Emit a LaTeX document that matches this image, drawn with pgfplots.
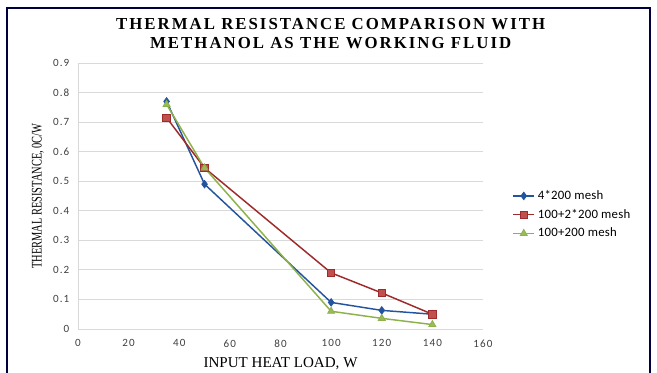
\documentclass[border=0pt]{standalone}
\usepackage{pgfplots}
\pgfplotsset{compat=1.18}
\usepackage{fontspec}
\setmainfont{Liberation Serif}
\newfontfamily\carl[LetterSpace=2]{Carlito}
\newfontfamily\titlefont[LetterSpace=12]{Liberation Serif}
\newfontfamily\tickfont[LetterSpace=10]{Carlito}
\definecolor{sblue}{HTML}{24549E}
\definecolor{sred}{HTML}{9E2A2B}
\definecolor{sredfill}{HTML}{C0504D}
\definecolor{sgreen}{HTML}{8DB14B}
\definecolor{sgreenfill}{HTML}{9BBB59}
\definecolor{gridc}{HTML}{D9D9D9}
\definecolor{tickc}{HTML}{404040}
\begin{document}
\begin{tikzpicture}
\path[use as bounding box] (0pt,0pt) rectangle (492.75pt,279pt);
\draw[color=black!75!blue, line width=1.2pt] (5.25pt,-2pt) -- (5.25pt,273pt) -- (487.5pt,273pt) -- (487.5pt,-2pt);
\node[align=center, font=\titlefont\bfseries\fontsize{12.6}{14.3}\selectfont] at (248pt,254pt) {THERMAL RESISTANCE COMPARISON WITH\\METHANOL AS THE WORKING FLUID};
\begin{axis}[
  at={(58.5pt,32.25pt)}, anchor=south west,
  scale only axis, width=303.75pt, height=199.5pt,
  xmin=0, xmax=160, ymin=0, ymax=0.9,
  xtick={0,20,...,160}, ytick={0,0.1,...,0.9},
  /pgf/number format/assume math mode=true,
  tick label style={font=\tickfont\fontsize{8.3}{9}\selectfont, color=tickc},
  xticklabel style={yshift=-4.5pt},
  yticklabel style={xshift=-3pt, /pgf/number format/.cd, fixed, precision=1},
  axis x line*=bottom, axis y line*=left,
  axis line style={draw=gridc, -},
  major tick length=0pt,
  ymajorgrids, grid style={gridc, line width=0.6pt},
  xlabel={INPUT HEAT LOAD, W},
  xlabel style={font=\fontsize{11.3}{12}\selectfont, yshift=-1pt},
  ylabel={\scalebox{0.71}[1]{THERMAL RESISTANCE, 0C/W}},
  ylabel style={font=\fontsize{11}{12}\selectfont, yshift=0pt},
  legend style={at={(1.062,0.43)}, anchor=west, draw=none, fill=none,
     font=\carl\fontsize{9.6}{11}\selectfont, row sep=1.8pt},
  legend cell align=left,
  legend image code/.code={\draw[#1] (0pt,0pt) -- (16pt,0pt); \draw[#1, mark repeat=2, mark phase=2] plot coordinates {(0pt,0pt) (8pt,0pt) (16pt,0pt)};},
]
\addplot[sblue, line width=1.1pt, mark=diamond*, mark size=2.8pt, mark options={fill=sblue, draw=sblue, line width=0.6pt}]
  coordinates {(35,0.77) (50,0.49) (100,0.09) (120,0.063) (140,0.05)};
\addlegendentry{4*200 mesh}
\addplot[sred, line width=1.1pt, mark=square*, mark size=2.8pt, mark options={fill=sredfill, draw=sred, line width=0.6pt}]
  coordinates {(35,0.715) (50,0.545) (100,0.19) (120,0.122) (140,0.05)};
\addlegendentry{100+2*200 mesh}
\addplot[sgreen, line width=1.1pt, mark=triangle*, mark size=3pt, mark options={fill=sgreenfill, draw=sgreen, line width=0.6pt}]
  coordinates {(35,0.76) (50,0.545) (100,0.06) (120,0.036) (140,0.015)};
\addlegendentry{100+200 mesh}
\end{axis}
\end{tikzpicture}
\end{document}
